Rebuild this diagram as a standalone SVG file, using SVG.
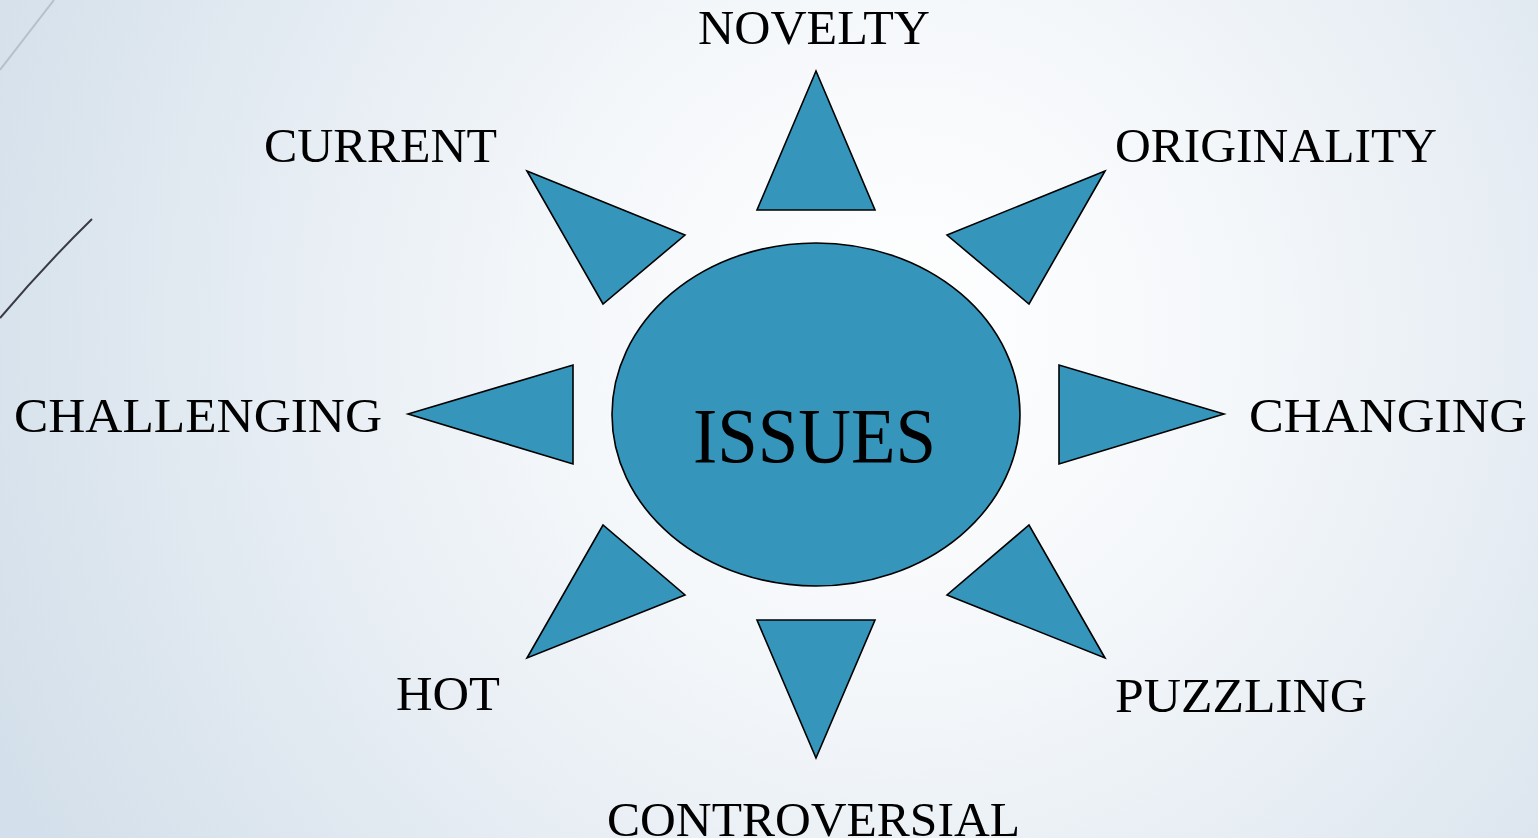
<svg xmlns="http://www.w3.org/2000/svg" width="1538" height="838" viewBox="0 0 1538 838">
<defs>
<radialGradient id="bg" gradientUnits="userSpaceOnUse" cx="900" cy="330" r="1000">
<stop offset="0" stop-color="#ffffff"/>
<stop offset="0.35" stop-color="#f4f7fa"/>
<stop offset="1" stop-color="#d3dfea"/>
</radialGradient>
<style>
.ray{fill:#3595bb;stroke:#000;stroke-width:1.6;stroke-linejoin:miter}
.lbl{font-family:"Liberation Serif","Times New Roman",serif;font-size:48px;fill:#000}
</style>
</defs>
<rect width="1538" height="838" fill="url(#bg)"/>
<g id="deco">
<line x1="0" y1="70" x2="54" y2="0" stroke="#b8bfc7" stroke-width="2"/>
<path d="M0,318 Q45,265 92,219" fill="none" stroke="#3a3a45" stroke-width="2"/>
</g>
<g id="connectors"></g>
<g id="center">
<ellipse cx="816" cy="414.5" rx="204" ry="171.5" class="ray"/>
<text x="693" y="462" class="lbl" style="font-size:78px" textLength="243" lengthAdjust="spacingAndGlyphs">ISSUES</text>
</g>
<g id="n-novelty">
<polygon class="ray" points="816,71 757,210 875,210"/>
<text x="698" y="44" class="lbl" textLength="232" lengthAdjust="spacingAndGlyphs">NOVELTY</text>
</g>
<g id="n-originality">
<polygon class="ray" points="1105,171 947,235 1029,304"/>
<text x="1115" y="162" class="lbl" textLength="322" lengthAdjust="spacingAndGlyphs">ORIGINALITY</text>
</g>
<g id="n-changing">
<polygon class="ray" points="1224,414 1059,365 1059,464"/>
<text x="1249" y="432" class="lbl" textLength="278" lengthAdjust="spacingAndGlyphs">CHANGING</text>
</g>
<g id="n-puzzling">
<polygon class="ray" points="1105,658 1029,525 947,595"/>
<text x="1115" y="712" class="lbl" textLength="252" lengthAdjust="spacingAndGlyphs">PUZZLING</text>
</g>
<g id="n-controversial">
<polygon class="ray" points="757,620 875,620 816,758"/>
<text x="607" y="836" class="lbl" textLength="413" lengthAdjust="spacingAndGlyphs">CONTROVERSIAL</text>
</g>
<g id="n-hot">
<polygon class="ray" points="527,658 603,525 685,595"/>
<text x="396" y="710" class="lbl" textLength="104" lengthAdjust="spacingAndGlyphs">HOT</text>
</g>
<g id="n-challenging">
<polygon class="ray" points="408,414 573,365 573,464"/>
<text x="14" y="432" class="lbl" textLength="368" lengthAdjust="spacingAndGlyphs">CHALLENGING</text>
</g>
<g id="n-current">
<polygon class="ray" points="527,171 685,235 603,304"/>
<text x="264" y="162" class="lbl" textLength="233" lengthAdjust="spacingAndGlyphs">CURRENT</text>
</g>
</svg>
